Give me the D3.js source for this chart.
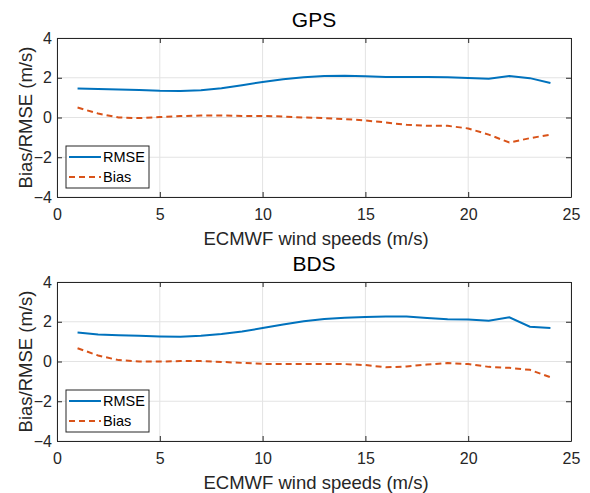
<!DOCTYPE html>
<html lang="en">
  <head>
    <meta charset="UTF-8" />
    <title>GPS / BDS wind speed error</title>
    <script src="https://d3js.org/d3.v7.min.js"></script>
    <style>
      body {
        margin: 0;
        padding: 0;
        background: #fff;
        font-family: "Liberation Sans", Arial, sans-serif;
      }
      svg { display: block; }
      .tick text { font-size: 16px; fill: #262626; }
      .title { font-size: 21px; fill: #000; }
      .axis-label { font-size: 18.5px; fill: #262626; }
      .legend text { font-size: 14.5px; fill: #000; }
    </style>
  </head>
  <body>
    <script>
      // Wind speed bins (m/s)
      const speeds = d3.range(1, 25);

      // GPS panel
      const gpsRmse = [1.46, 1.43, 1.41, 1.38, 1.34, 1.33, 1.37, 1.47, 1.62, 1.79,
                       1.92, 2.02, 2.09, 2.10, 2.07, 2.04, 2.04, 2.04, 2.02, 1.99,
                       1.95, 2.09, 1.98, 1.74];
      const gpsBias = [0.50, 0.20, 0.00, -0.03, 0.02, 0.07, 0.10, 0.10, 0.08, 0.08,
                       0.05, 0.00, -0.03, -0.08, -0.15, -0.25, -0.37, -0.42, -0.42, -0.55,
                       -0.86, -1.26, -1.04, -0.86];

      // BDS panel
      const bdsRmse = [1.46, 1.36, 1.32, 1.29, 1.26, 1.25, 1.29, 1.38, 1.51, 1.68,
                       1.86, 2.02, 2.14, 2.20, 2.24, 2.26, 2.27, 2.19, 2.12, 2.11,
                       2.05, 2.22, 1.75, 1.68];
      const bdsBias = [0.67, 0.30, 0.07, 0.00, 0.00, 0.02, 0.02, -0.02, -0.07, -0.12,
                       -0.12, -0.12, -0.12, -0.13, -0.18, -0.29, -0.25, -0.15, -0.08, -0.13,
                       -0.27, -0.32, -0.42, -0.79];

      const xTicks = [0, 5, 10, 15, 20, 25];
      const yTicks = [-4, -2, 0, 2, 4];

      const panels = [
        { title: "GPS", rmse: gpsRmse, bias: gpsBias, top: 38 },
        { title: "BDS", rmse: bdsRmse, bias: bdsBias, top: 282 }
      ];

      const width = 590, height = 493;
      const left = 57, right = 571, plotH = 159;

      const svg = d3.select("body")
                    .append("svg")
                    .attr("width", width)
                    .attr("height", height);

      const x = d3.scaleLinear().domain([0, 25]).range([left, right]);

      const rmseColor = "#0072BD", biasColor = "#D95319";

      panels.forEach(p => {
        const y = d3.scaleLinear().domain([-4, 4]).range([p.top + plotH, p.top]);
        const g = svg.append("g");

        // grid
        g.append("g").selectAll("line").data(xTicks).join("line")
          .attr("x1", d => x(d)).attr("x2", d => x(d))
          .attr("y1", p.top).attr("y2", p.top + plotH)
          .attr("stroke", "#e3e3e3").attr("stroke-width", 1);
        g.append("g").selectAll("line").data(yTicks).join("line")
          .attr("x1", left).attr("x2", right)
          .attr("y1", d => y(d)).attr("y2", d => y(d))
          .attr("stroke", "#e3e3e3").attr("stroke-width", 1);

        // axes (ticks inside, on all four sides)
        const bottomAxis = d3.axisBottom(x).tickValues(xTicks).tickSizeInner(-5).tickSizeOuter(0).tickPadding(12);
        const topAxis = d3.axisTop(x).tickValues(xTicks).tickSizeInner(-5).tickSizeOuter(0).tickFormat("");
        const leftAxis = d3.axisLeft(y).tickValues(yTicks).tickSizeInner(-5).tickSizeOuter(0).tickPadding(5);
        const rightAxis = d3.axisRight(y).tickValues(yTicks).tickSizeInner(-5).tickSizeOuter(0).tickFormat("");

        [
          [bottomAxis, `translate(0,${p.top + plotH})`],
          [topAxis, `translate(0,${p.top})`],
          [leftAxis, `translate(${left},0)`],
          [rightAxis, `translate(${right},0)`]
        ].forEach(([ax, tr]) => {
          const a = g.append("g").attr("transform", tr).call(ax);
          a.selectAll("path").attr("stroke", "#262626");
          a.selectAll("line").attr("stroke", "#262626");
          a.attr("font-family", null).attr("font-size", null);
        });

        // lines
        const line = vals => d3.line()
          .x((d, i) => x(speeds[i]))
          .y(d => y(d))(vals);

        g.append("path").attr("d", line(p.rmse))
          .attr("fill", "none").attr("stroke", rmseColor).attr("stroke-width", 2);
        g.append("path").attr("d", line(p.bias))
          .attr("fill", "none").attr("stroke", biasColor).attr("stroke-width", 2)
          .attr("stroke-dasharray", "6,4");

        // title
        g.append("text").attr("class", "title")
          .attr("x", (left + right) / 2).attr("y", p.top - 11)
          .attr("text-anchor", "middle").text(p.title);

        // axis labels
        g.append("text").attr("class", "axis-label")
          .attr("x", (left + right) / 2 + 2).attr("y", p.top + plotH + 48)
          .attr("text-anchor", "middle").text("ECMWF wind speeds (m/s)");
        g.append("text").attr("class", "axis-label")
          .attr("transform", `translate(32,${p.top + plotH / 2}) rotate(-90)`)
          .attr("text-anchor", "middle").text("Bias/RMSE (m/s)");

        // legend
        const lg = g.append("g").attr("class", "legend")
          .attr("transform", `translate(66,${p.top + 108})`);
        lg.append("rect").attr("width", 83).attr("height", 42)
          .attr("fill", "#fff").attr("stroke", "#262626").attr("stroke-width", 1);
        const items = [
          { name: "RMSE", color: rmseColor, dash: null },
          { name: "Bias", color: biasColor, dash: "6,4" }
        ];
        items.forEach((it, i) => {
          const cy = 11 + i * 20;
          lg.append("line").attr("x1", 3).attr("x2", 35).attr("y1", cy).attr("y2", cy)
            .attr("stroke", it.color).attr("stroke-width", 2)
            .attr("stroke-dasharray", it.dash);
          lg.append("text").attr("x", 37).attr("y", cy + 5).text(it.name);
        });
      });
    </script>
  </body>
</html>
